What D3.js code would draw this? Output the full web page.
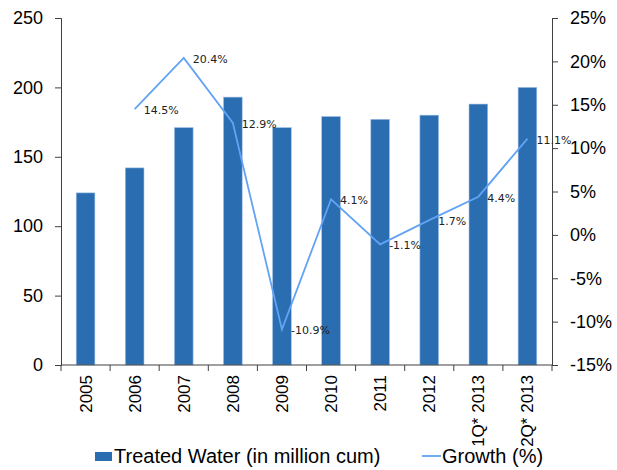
<!DOCTYPE html>
<html>
<head>
<meta charset="utf-8">
<script src="https://cdn.jsdelivr.net/npm/d3@7"></script>
<style>
  body { margin: 0; background: #fff; }
  svg text { font-family: "Liberation Sans", Arial, sans-serif; }
</style>
</head>
<body>
<script>
/* Data */
const categories = ["2005", "2006", "2007", "2008", "2009", "2010", "2011", "2012", "1Q* 2013", "2Q* 2013"];
const treatedWater = [124, 142, 171, 193, 171, 179, 177, 180, 188, 200];
const growth = [null, 14.5, 20.4, 12.9, -10.9, 4.1, -1.1, 1.7, 4.4, 11.1];
const leftTicks = [0, 50, 100, 150, 200, 250];
const rightTicks = [-15, -10, -5, 0, 5, 10, 15, 20, 25];

/* Constants */
const w = 617;
const h = 470;
const plotLeft = 61, plotRight = 552, plotTop = 18, plotBottom = 365;

const svg = d3.select("body")
  .append("svg")
  .attr("width", w)
  .attr("height", h);

/* Scales */
const xScale = d3.scaleBand()
  .domain(categories)
  .range([plotLeft, plotRight])
  .paddingInner(0.62)
  .paddingOuter(0.31);

const xEdge = d3.scalePoint()
  .domain(d3.range(categories.length + 1))
  .range([plotLeft, plotRight]);

const yScale = d3.scaleLinear()
  .domain([0, 250])
  .range([plotBottom, plotTop]);

const y2Scale = d3.scaleLinear()
  .domain([-15, 25])
  .range([plotBottom, plotTop]);

/* Bars */
svg.selectAll("rect.bar")
  .data(treatedWater)
  .enter()
  .append("rect")
  .attr("class", "bar")
  .attr("x", (d, i) => xScale(categories[i]))
  .attr("y", d => yScale(d))
  .attr("width", xScale.bandwidth())
  .attr("height", d => plotBottom - yScale(d))
  .attr("fill", "#2a6db0")
  .attr("stroke", "#9dbfe6")
  .attr("stroke-width", 0.6);

/* Axes */
const yAxis = d3.axisLeft(yScale).tickValues(leftTicks).tickSizeOuter(0).tickSize(6).tickPadding(12);
const y2Axis = d3.axisRight(y2Scale).tickValues(rightTicks).tickSizeOuter(0).tickSize(6).tickPadding(12)
  .tickFormat(d => d + "%");

const gy = svg.append("g")
  .attr("transform", "translate(" + plotLeft + ",0)")
  .call(yAxis);

const gy2 = svg.append("g")
  .attr("transform", "translate(" + plotRight + ",0)")
  .call(y2Axis);

[gy, gy2].forEach(g => {
  g.select(".domain").attr("stroke", "#404040");
  g.selectAll(".tick line").attr("stroke", "#404040");
  g.selectAll(".tick text")
    .attr("font-size", 18)
    .attr("fill", "#000")
    .style("font-family", "'Liberation Sans', Arial, sans-serif");
});

/* X axis */
const gx = svg.append("g");
gx.append("line")
  .attr("x1", plotLeft).attr("x2", plotRight)
  .attr("y1", plotBottom).attr("y2", plotBottom)
  .attr("stroke", "#404040");

gx.selectAll("line.tk")
  .data(d3.range(categories.length + 1))
  .enter()
  .append("line")
  .attr("class", "tk")
  .attr("x1", d => xEdge(d)).attr("x2", d => xEdge(d))
  .attr("y1", plotBottom).attr("y2", plotBottom + 6)
  .attr("stroke", "#404040");

gx.selectAll("text")
  .data(categories)
  .enter()
  .append("text")
  .attr("transform", d => "translate(" + (xScale(d) + xScale.bandwidth() / 2 + 6) + "," + (plotBottom + 10) + ") rotate(-90)")
  .attr("text-anchor", "end")
  .attr("font-size", 17)
  .attr("fill", "#000")
  .text(d => d);

/* Growth line */
const pts = growth.map((g, i) => ({ c: categories[i], g: g })).filter(d => d.g !== null);

const line = d3.line()
  .x(d => xScale(d.c) + xScale.bandwidth() / 2)
  .y(d => y2Scale(d.g));

svg.append("path")
  .datum(pts)
  .attr("d", line)
  .attr("fill", "none")
  .attr("stroke", "#62a3f5")
  .attr("stroke-width", 1.8);

svg.selectAll("text.lbl")
  .data(pts)
  .enter()
  .append("text")
  .attr("class", "lbl")
  .attr("x", d => xScale(d.c) + xScale.bandwidth() / 2 + 9)
  .attr("y", d => y2Scale(d.g) + 5)
  .attr("font-size", 11)
  .style("font-family", "'DejaVu Sans', Verdana, sans-serif")
  .attr("fill", "#222")
  .text(d => d.g.toFixed(1) + "%");

/* Legend */
const legend = svg.append("g");
legend.append("rect")
  .attr("x", 95).attr("y", 452)
  .attr("width", 17).attr("height", 9)
  .attr("fill", "#2a6db0");
legend.append("text")
  .attr("x", 114).attr("y", 463)
  .attr("font-size", 20)
  .attr("fill", "#000")
  .text("Treated Water (in million cum)");
legend.append("line")
  .attr("x1", 422).attr("x2", 441)
  .attr("y1", 456).attr("y2", 456)
  .attr("stroke", "#62a3f5")
  .attr("stroke-width", 1.8);
legend.append("text")
  .attr("x", 442).attr("y", 463)
  .attr("font-size", 20)
  .attr("fill", "#000")
  .text("Growth (%)");
</script>
</body>
</html>
